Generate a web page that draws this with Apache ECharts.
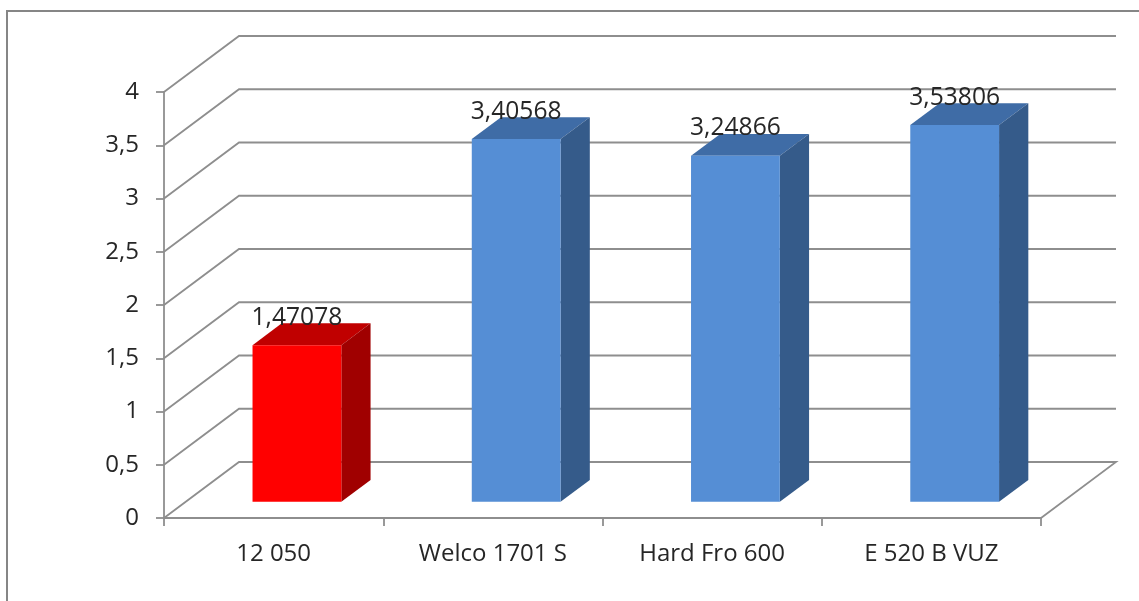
<!DOCTYPE html>
<html>
<head>
<meta charset="utf-8">
<style>
  html, body { margin: 0; padding: 0; background: #fff; }
  #chart { width: 1139px; height: 601px; }
</style>
<script src="https://cdn.jsdelivr.net/npm/echarts@6/dist/echarts.min.js"></script>
</head>
<body>
<div id="chart"></div>
<script>
// Values per product
const categories = ['12 050', 'Welco 1701 S', 'Hard Fro 600', 'E 520 B VUZ'];
const values = [1.47078, 3.40568, 3.24866, 3.53806];
const valueTicks = [0, 0.5, 1, 1.5, 2, 2.5, 3, 3.5, 4];

// Colours of the bar faces: front, top, side
const redFaces = ['#ff0000', '#c00000', '#a00000'];
const blueFaces = ['#558ed5', '#3f6ca6', '#355b8a'];
const faces = [redFaces, blueFaces, blueFaces, blueFaces];

// Oblique projection: how far the back wall sits from the front plane
const WALL_DX = 75, WALL_DY = -56;
// Position of the bars inside the floor, as fractions of the wall depth
const BAR_NEAR = 0.30, BAR_DEPTH = 0.39;
const BAR_WIDTH_RATIO = 0.405;

const LINE = '#8e8e8e';
const LINE_WIDTH = 1.8;
const FONT = '"Open Sans"';
const TEXT = '#262626';

const fmt = v => String(v).replace('.', ',');
const poly = (points, fill) => ({
  type: 'polygon',
  shape: { points },
  style: { fill, stroke: null }
});

// One bar: front, top and side faces plus its value above the top edge
function renderBar(params, api) {
  const i = api.value(0);
  const v = api.value(1);
  const band = api.size([1, 0])[0];
  const w = band * BAR_WIDTH_RATIO;
  const c = api.coord([i, v]);
  const b = api.coord([i, 0]);
  const shiftX = WALL_DX * BAR_NEAR + 0.8, shiftY = WALL_DY * BAR_NEAR + 0.6;
  const dx = WALL_DX * BAR_DEPTH, dy = WALL_DY * BAR_DEPTH;
  const x0 = c[0] + shiftX - w / 2, x1 = x0 + w;
  const yTop = c[1] + shiftY, yBase = b[1] + shiftY;
  const col = faces[i];
  return {
    type: 'group',
    children: [
      poly([[x0, yTop], [x1, yTop], [x1 + dx, yTop + dy], [x0 + dx, yTop + dy]], col[1]),
      poly([[x1, yTop], [x1 + dx, yTop + dy], [x1 + dx, yBase + dy], [x1, yBase]], col[2]),
      poly([[x0, yTop], [x1, yTop], [x1, yBase], [x0, yBase]], col[0]),
      {
        type: 'text',
        z2: 10,
        style: {
          x: (x0 + x1) / 2,
          y: yTop - 27.5,
          text: fmt(v),
          fill: TEXT,
          font: '24.6px ' + FONT,
          align: 'center',
          verticalAlign: 'middle'
        }
      }
    ]
  };
}

// One grid level: the diagonal on the side wall and the line along the back wall
function renderWall(params, api) {
  const v = api.value(0);
  const band = api.size([1, 0])[0];
  const first = api.coord([0, v]);
  const last = api.coord([categories.length - 1, v]);
  const xl = first[0] - band / 2, xr = last[0] + band / 2, y = first[1];
  const style = { stroke: LINE, lineWidth: LINE_WIDTH, fill: null };
  const points = [[xl, y], [xl + WALL_DX, y + WALL_DY], [xr + WALL_DX, y + WALL_DY]];
  if (v === 0) points.push([xr, y]);
  return { type: 'polyline', shape: { points }, style };
}

const axisStroke = { color: LINE, width: LINE_WIDTH };

const chart = echarts.init(document.getElementById('chart'), null, { renderer: 'canvas' });
chart.setOption({
  animation: false,
  backgroundColor: '#ffffff',
  graphic: [{
    type: 'rect',
    silent: true,
    shape: { x: 7, y: 11, width: 1200, height: 700 },
    style: { fill: null, stroke: '#868686', lineWidth: 2 }
  }],
  grid: { left: 164, right: 98, top: 92, bottom: 83 },
  xAxis: {
    type: 'category',
    data: categories,
    axisLine: { lineStyle: axisStroke },
    axisTick: { show: true, alignWithLabel: false, length: 8, lineStyle: axisStroke },
    axisLabel: { color: TEXT, fontFamily: FONT, fontSize: 24, margin: 24 },
    splitLine: { show: false }
  },
  yAxis: {
    type: 'value',
    min: 0,
    max: 4,
    interval: 0.5,
    axisLine: { show: true, lineStyle: axisStroke },
    axisTick: { show: true, length: 8, lineStyle: axisStroke },
    axisLabel: { color: TEXT, fontFamily: FONT, fontSize: 24, margin: 25, formatter: fmt },
    splitLine: { show: false }
  },
  series: [
    {
      type: 'custom',
      coordinateSystem: 'cartesian2d',
      renderItem: renderWall,
      encode: { y: 0 },
      data: valueTicks.map(v => [v]),
      silent: true,
      z: 1
    },
    {
      type: 'custom',
      coordinateSystem: 'cartesian2d',
      renderItem: renderBar,
      encode: { x: 0, y: 1 },
      data: values.map((v, i) => [i, v]),
      silent: true,
      z: 2
    }
  ]
});
</script>
</body>
</html>
